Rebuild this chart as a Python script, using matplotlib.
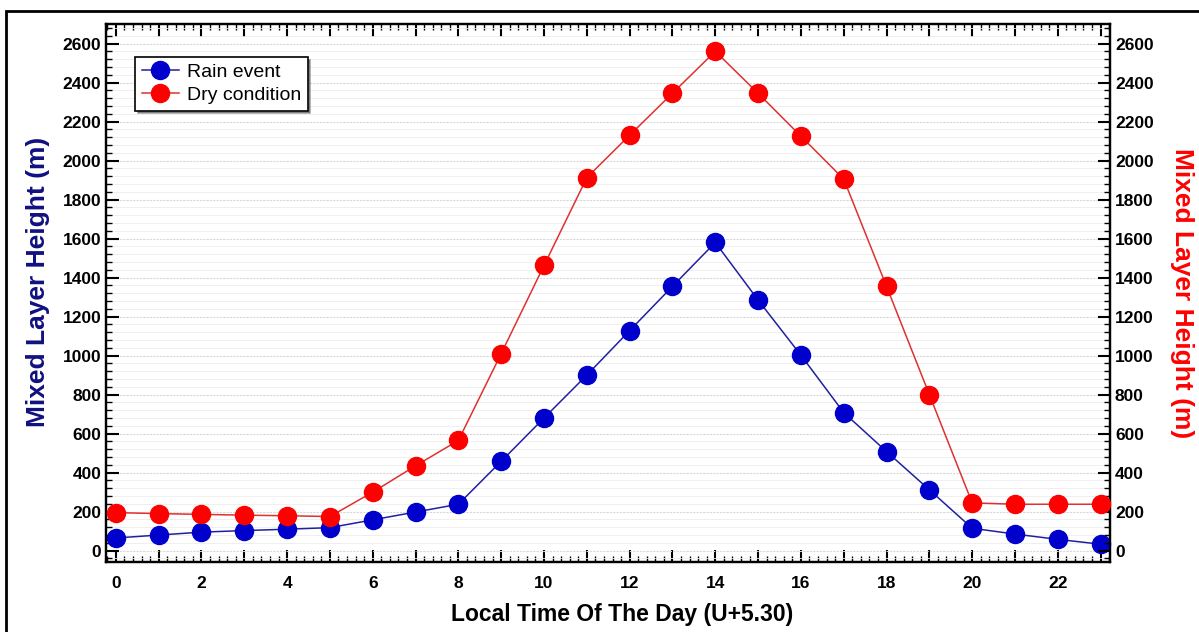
import matplotlib
matplotlib.use("Agg")
import matplotlib.pyplot as plt
from matplotlib.ticker import MultipleLocator, FuncFormatter
from matplotlib.patches import Rectangle

# Hourly mixed layer height (m)
hours = list(range(24))
rain_event = [65, 80, 95, 103, 110, 118, 158, 198, 238, 458, 680, 900,
              1128, 1355, 1580, 1285, 1002, 708, 508, 312, 115, 85, 58, 33]
dry_condition = [195, 190, 186, 182, 179, 175, 300, 435, 565, 1010, 1462, 1912,
                 2130, 2345, 2560, 2345, 2125, 1905, 1355, 800, 245, 238, 238, 238]

plt.rcParams['font.family'] = ['Liberation Sans', 'DejaVu Sans']

fig = plt.figure(figsize=(11.99, 6.32), dpi=100)
ax = fig.add_axes([0.0884, 0.1108, 0.8374, 0.8512])
ax2 = ax.twinx()

# outer frame around the whole figure
fig.patches.append(Rectangle((0.005, -0.01), 1.0, 0.993, transform=fig.transFigure,
                             fill=False, edgecolor='black', linewidth=2))

l1, = ax.plot(hours, rain_event, color='#2020a0', linewidth=1.1, marker='o',
              markersize=13, markerfacecolor='#0000cc', markeredgecolor='#0000cc',
              label='Rain event', zorder=3, clip_on=False)
l2, = ax2.plot(hours, dry_condition, color='#e03030', linewidth=1.1, marker='o',
               markersize=13, markerfacecolor='#ff0000', markeredgecolor='#ff0000',
               label='Dry condition', zorder=3, clip_on=False)

for a in (ax, ax2):
    a.set_ylim(-58, 2700)
    a.yaxis.set_major_locator(MultipleLocator(200))
    a.yaxis.set_minor_locator(MultipleLocator(40))
    for s in a.spines.values():
        s.set_linewidth(1.6)

ax.set_xlim(-0.23, 23.22)
ax.xaxis.set_major_locator(MultipleLocator(1))
ax.xaxis.set_minor_locator(MultipleLocator(0.2))
ax.xaxis.set_major_formatter(FuncFormatter(lambda v, p: f"{int(v)}" if int(round(v)) % 2 == 0 else ""))

ax.tick_params(axis='both', which='major', direction='in', length=9, width=1.5,
               top=True, labelsize=12.5)
ax.tick_params(axis='both', which='minor', direction='in', length=4.5, width=1.0, top=True)
ax.tick_params(axis='x', pad=10)
ax2.tick_params(axis='y', which='major', direction='in', length=9, width=1.5, labelsize=12.5)
ax2.tick_params(axis='y', which='minor', direction='in', length=4.5, width=1.0)
for lab in ax.get_xticklabels() + ax.get_yticklabels() + ax2.get_yticklabels():
    lab.set_fontweight('bold')

ax.grid(True, which='major', axis='y', color='#d8d8d8', linestyle=(0, (2, 1)), linewidth=0.8)
ax.grid(True, which='minor', axis='y', color='#ececec', linestyle='-', linewidth=0.6)
ax.set_axisbelow(True)

ax.set_xlabel('Local Time Of The Day (U+5.30)', fontsize=16.5, fontweight='bold')
ax.xaxis.set_label_coords(0.514, -0.077)
ax.set_ylabel('Mixed Layer Height (m)', fontsize=19, fontweight='bold', color='#101080',
              va='center')
ax.yaxis.set_label_coords(-0.068, 0.52)
ax2.set_ylabel('Mixed Layer Height (m)', fontsize=19, fontweight='bold', color='#ff0000',
               rotation=-90, va='center')
ax2.yaxis.set_label_coords(1.072, 0.5)

leg = ax2.legend(handles=[l1, l2], loc='upper left', bbox_to_anchor=(0.029, 0.939),
                 fontsize=14, frameon=True, fancybox=False, shadow=True,
                 borderpad=0.35, handlelength=1.9, handletextpad=0.4, labelspacing=0.25,
                 borderaxespad=0)
leg.get_frame().set_edgecolor('black')
leg.get_frame().set_linewidth(1.2)

fig.savefig('out.png', dpi=100)
